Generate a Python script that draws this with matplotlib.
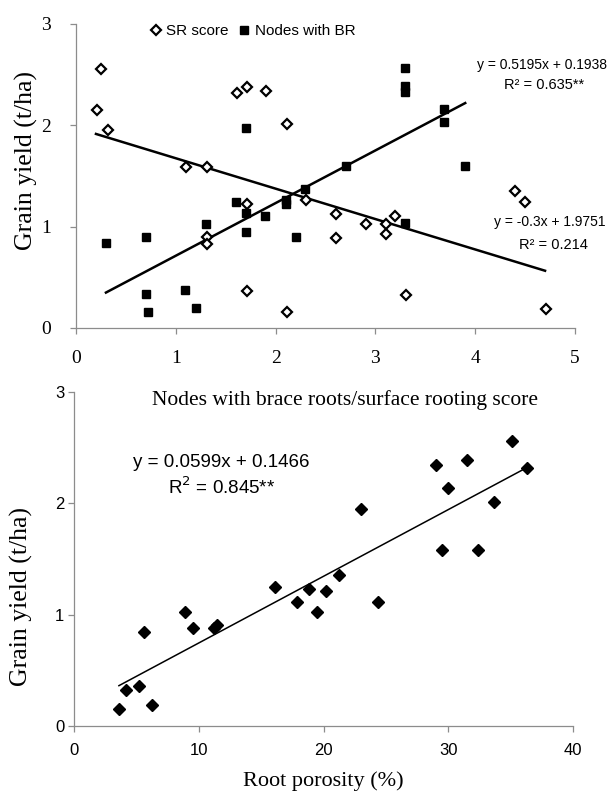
import numpy as np
import matplotlib.pyplot as plt

# Top panel: grain yield vs surface rooting score / nodes with brace roots
sr_score = [0.21, 0.25, 0.32, 1.10, 1.31, 1.61, 1.71, 1.90, 2.11, 1.71, 1.31, 1.31, 2.30,
            2.61, 2.61, 1.71, 2.11, 2.91, 3.11, 3.11, 3.20, 3.31, 4.40, 4.50, 4.71]
sr_yield = [2.15, 2.56, 1.95, 1.59, 1.59, 2.32, 2.38, 2.34, 2.01, 1.22, 0.895, 0.83, 1.26,
            1.125, 0.89, 0.37, 0.155, 1.03, 1.03, 0.93, 1.105, 0.33, 1.355, 1.24, 0.19]

br_nodes = [0.30, 0.70, 0.70, 0.72, 1.09, 1.20, 1.30, 1.60, 1.70, 1.70, 1.70, 1.89, 2.10,
            2.10, 2.20, 2.29, 2.71, 3.30, 3.30, 3.30, 3.30, 3.69, 3.69, 3.90]
br_yield = [0.835, 0.90, 0.335, 0.16, 0.375, 0.20, 1.03, 1.247, 1.13, 0.945, 1.97, 1.11, 1.26,
            1.22, 0.90, 1.37, 1.60, 2.57, 2.39, 2.33, 1.04, 2.16, 2.03, 1.60]

# fitted lines as printed on the chart
br_fit = (0.5195, 0.1938)
sr_fit = (-0.3, 1.9751)
br_range = [0.3, 3.9]
sr_range = [0.2, 4.7]

# Bottom panel: grain yield vs root porosity
porosity = [3.6, 4.13, 5.2, 5.65, 6.24, 8.88, 9.57, 11.2, 11.45, 16.15, 17.85, 18.8, 19.45,
            20.2, 21.25, 23.0, 24.4, 29.0, 29.95, 29.5, 31.5, 32.4, 33.65, 35.1, 36.3]
por_yield = [0.15, 0.32, 0.36, 0.84, 0.19, 1.02, 0.88, 0.88, 0.91, 1.25, 1.115, 1.23, 1.025,
             1.21, 1.355, 1.95, 1.11, 2.34, 2.14, 1.585, 2.39, 1.585, 2.01, 2.56, 2.32]
por_fit = (0.0599, 0.1466)
por_range = [3.6, 36.5]

SERIF = 'Liberation Serif'
SANS = 'Liberation Sans'
GREY = '#8c8c8c'

fig = plt.figure(figsize=(6.12, 7.96), dpi=100)

def style_axes(ax):
    for s in ['top', 'right']:
        ax.spines[s].set_visible(False)
    for s in ['left', 'bottom']:
        ax.spines[s].set_color(GREY)
        ax.spines[s].set_linewidth(0.9)
    ax.tick_params(direction='out', color=GREY, length=4, width=0.9)

# ---- top panel ----
ax1 = fig.add_axes([76/612, 1-328/796, 499/612, 304/796])
style_axes(ax1)
ax1.set_xlim(0, 5)
ax1.set_ylim(0, 3)
ax1.set_xticks([0, 1, 2, 3, 4, 5])
ax1.set_yticks([0, 1, 2, 3])
ax1.tick_params(axis='x', pad=12, labelsize=14)
ax1.tick_params(axis='y', pad=14, labelsize=14)
for lab in ax1.get_xticklabels() + ax1.get_yticklabels():
    lab.set_fontfamily(SERIF)

ax1.plot(sr_score, sr_yield, linestyle='none', marker='D', ms=5.5, mfc='white',
         mec='black', mew=1.6, label='SR score', zorder=3)
ax1.plot(br_nodes, br_yield, linestyle='none', marker='s', ms=6, color='black',
         label='Nodes with BR', zorder=3)

xb = np.array(br_range)
ax1.plot(xb, br_fit[0]*xb + br_fit[1], color='black', lw=1.8)
xs = np.array(sr_range)
ax1.plot(xs, sr_fit[0]*xs + sr_fit[1], color='black', lw=1.8)

ax1.text(4.67, 2.60, 'y = 0.5195x + 0.1938', ha='center', va='center',
         fontsize=10, family=SANS)
ax1.text(4.69, 2.40, 'R² = 0.635**', ha='center', va='center', fontsize=10.5, family=SANS)
ax1.text(4.75, 1.05, 'y = -0.3x + 1.9751', ha='center', va='center',
         fontsize=10, family=SANS)
ax1.text(4.78, 0.82, 'R² = 0.214', ha='center', va='center', fontsize=10.5, family=SANS)

leg = ax1.legend(loc='upper left', bbox_to_anchor=(0.12, 1.045), ncol=2, frameon=False,
                 handlelength=0.8, handletextpad=0.3, columnspacing=0.6,
                 prop={'family': SANS, 'size': 11})

fig.text(26/612, 1-160/796, 'Grain yield (t/ha)', rotation=90, ha='center', va='center',
         fontsize=18.5, family=SERIF)

# ---- bottom panel ----
ax2 = fig.add_axes([74/612, 1-726/796, 499/612, 334/796])
style_axes(ax2)
ax2.set_xlim(0, 40)
ax2.set_ylim(0, 3)
ax2.set_xticks([0, 10, 20, 30, 40])
ax2.set_yticks([0, 1, 2, 3])
ax2.tick_params(axis='x', pad=8, labelsize=12)
ax2.tick_params(axis='y', pad=3, labelsize=12)
for lab in ax2.get_xticklabels() + ax2.get_yticklabels():
    lab.set_fontfamily(SANS)

ax2.plot(porosity, por_yield, linestyle='none', marker='D', ms=6.5, color='black', zorder=3)
xp = np.array(por_range)
ax2.plot(xp, por_fit[0]*xp + por_fit[1], color='black', lw=1.1)

ax2.text(11.8, 2.37, 'y = 0.0599x + 0.1466', ha='center', va='center',
         fontsize=13.5, family=SANS)
ax2.text(11.8, 2.14, 'R$^2$ = 0.845**', ha='center', va='center',
         fontsize=13.5, family=SANS)

ax2.set_xlabel('Root porosity (%)', fontsize=16, family=SERIF, labelpad=10)

fig.text(345/612, 1-400/796, 'Nodes with brace roots/surface rooting score',
         ha='center', va='center', fontsize=15.5, family=SERIF)
fig.text(21/612, 1-597/796, 'Grain yield (t/ha)', rotation=90, ha='center', va='center',
         fontsize=18.5, family=SERIF)

fig.savefig('out.png', dpi=100)
